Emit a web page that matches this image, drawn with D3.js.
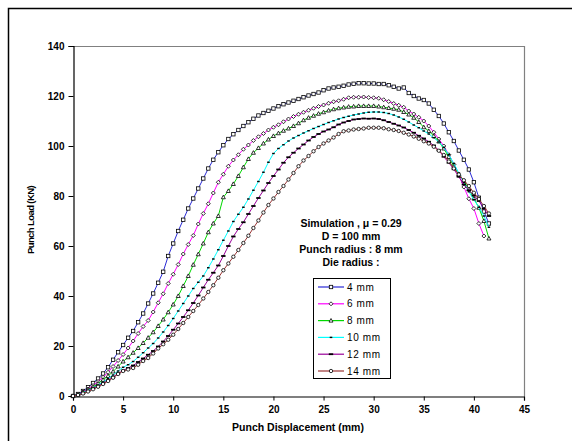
<!DOCTYPE html>
<html lang="en">
<head>
<meta charset="utf-8">
<title>Punch load vs displacement</title>
<script src="https://cdnjs.cloudflare.com/ajax/libs/d3/7.8.5/d3.min.js"></script>
<style>
  html, body { margin: 0; padding: 0; background: #fff; }
  svg { display: block; font-family: Arial, "Liberation Sans", sans-serif; }
</style>
</head>
<body>
<svg id="chart" width="572" height="441"></svg>
<script>
// displacement (mm), one reading every 0.5 mm
const disp = [0, 0.5, 1, 1.5, 2, 2.5, 3, 3.5, 4, 4.5, 5, 5.5, 6, 6.5, 7, 7.5, 8, 8.5, 9, 9.5,
  10, 10.5, 11, 11.5, 12, 12.5, 13, 13.5, 14, 14.5, 15, 15.5, 16, 16.5, 17, 17.5, 18, 18.5, 19, 19.5,
  20, 20.5, 21, 21.5, 22, 22.5, 23, 23.5, 24, 24.5, 25, 25.5, 26, 26.5, 27, 27.5, 28, 28.5, 29, 29.5,
  30, 30.5, 31, 31.5, 32, 32.5, 33, 33.5, 34, 34.5, 35, 35.5, 36, 36.5, 37, 37.5, 38, 38.5, 39, 39.5,
  40, 40.5, 41, 41.5];

// punch load (kN) for each die radius
const load4 = [0, 0.8, 2, 3.5, 5.2, 7, 9, 11.5, 14.5, 17.5, 20.4, 23.3, 26, 29.5, 33, 37, 41, 45.3, 49.7, 56,
  61, 66, 70.5, 75, 79, 83, 87, 91, 94.5, 97.5, 100.3, 102.8, 104.7, 106.4, 108, 109.5, 110.9, 112.2, 113.2, 114.1,
  115, 115.9, 116.7, 117.4, 118.1, 118.8, 119.5, 120.2, 120.8, 121.4, 122.3, 123, 123.4, 123.7, 124.1, 124.6, 124.9, 125.1, 125.1, 125,
  125, 124.8, 124.8, 124.3, 123.7, 123, 123.4, 121.2, 120, 119, 118.4, 117, 114.5, 112, 109, 105.5, 102, 98.2, 94.5, 90.6,
  85.5, 79.3, 73.8, 69];
const load6 = [0, 0.6, 1.6, 2.8, 4.2, 5.8, 7.5, 9.5, 11.8, 14.2, 16.6, 19.2, 22, 25, 27.8, 30.2, 33.6, 37.3, 40.9, 45,
  48.7, 52.6, 56.8, 60.6, 64.2, 68.8, 73, 76.9, 81.2, 85.5, 88.7, 91.9, 94.4, 96.5, 98.7, 100.4, 102.2, 103.7, 105, 106.4,
  107.5, 108.5, 109.7, 110.8, 111.8, 112.7, 113.5, 114.3, 115.1, 115.8, 116.4, 117.1, 117.7, 118.1, 118.7, 119.3, 119.5, 119.5, 119.6, 119.4,
  119.3, 119.1, 118.5, 117.8, 117, 116.3, 115.5, 114, 112.8, 111.5, 110, 108, 105.5, 102.8, 100, 96.5, 92.6, 88.3, 83.6, 78.9,
  75, 69, 64];
const load8 = [0, 0.5, 1.4, 2.4, 3.6, 5, 6.5, 8, 9.8, 11.8, 13.8, 15.5, 17.3, 19.2, 21.2, 23.3, 25.5, 28, 30.6, 33.5,
  36.6, 40, 44, 48, 52.5, 56.7, 61, 65.5, 69, 72, 79.5, 82, 84.8, 88, 91.5, 94.8, 97.3, 99.2, 101, 102.6,
  104, 105.1, 106.1, 107, 108, 109.1, 110.3, 111.3, 112.1, 112.9, 113.5, 114.2, 114.7, 115.1, 115.4, 115.7, 115.8, 116, 116, 116,
  116, 115.8, 115.5, 115.2, 114.9, 114.5, 113.6, 112.6, 111.3, 109.6, 107.5, 106, 104, 101.8, 99, 95.6, 91.8, 88.5, 86, 82.8,
  79, 75.3, 70, 63];
const load10 = [0, 0.5, 1.3, 2.2, 3.2, 4.4, 5.6, 7, 8.4, 10, 11.5, 12.5, 13.8, 15.5, 17.3, 19.2, 21, 23.2, 25.6, 28.2,
  31, 34, 37, 40, 43, 45.5, 48, 51.3, 54.8, 58.5, 62.3, 66, 69.8, 72.7, 75.5, 78.8, 82.3, 85.8, 89.5, 93.5,
  97, 99, 100.5, 102, 103.2, 104.2, 105.2, 106.1, 107, 107.8, 108.6, 109.4, 110.1, 110.8, 111.4, 111.9, 112.4, 112.8, 113.2, 113.5,
  113.6, 113.6, 113.4, 113, 112.4, 111.6, 110.7, 109.6, 108.4, 107.3, 106, 104.8, 103.3, 101.6, 99.4, 96.5, 93, 89.2, 85.4, 81.7,
  78.5, 75.5, 72, 67.5];
const load12 = [0, 0.4, 1.1, 2, 3, 4, 5.1, 6.3, 7.6, 9, 10.2, 11.2, 12.2, 13.6, 15, 16.5, 18, 19.8, 21.8, 24,
  26.5, 29, 31.6, 34.3, 37.2, 40.2, 43.4, 46.5, 49.3, 52.2, 56, 60, 63.8, 66.8, 69.5, 72.8, 76, 79.2, 82.2, 85.2,
  88, 90.6, 93.3, 95.5, 97.3, 99, 100.6, 102.2, 103.6, 104.8, 105.8, 106.6, 107.5, 108.6, 109.4, 110, 110.6, 110.8, 111, 110.9,
  111, 110.8, 110.3, 109.6, 108.9, 108.2, 107.4, 106.4, 105.3, 104.1, 103, 101.7, 100.2, 98.3, 95.7, 93.3, 90.7, 87.7, 84.6, 82.3,
  80.2, 78, 75, 72];
const load14 = [0, 0.4, 1, 1.8, 2.7, 3.7, 4.8, 6, 7.3, 8.8, 10, 10.6, 11.2, 12.5, 14, 15.2, 17, 19, 20.7, 22.5,
  24.5, 26.8, 29.2, 31.6, 34, 36.4, 39, 41.6, 44.3, 47.3, 50.3, 53, 55.7, 58.4, 61.2, 64.1, 67.2, 70.2, 73.4, 76.4,
  79, 81.6, 84, 86.6, 89.2, 91.9, 94.2, 96, 97.9, 99.6, 101, 102.2, 103.4, 104.8, 105.9, 106.2, 106.6, 106.8, 107, 107.3,
  107.3, 107.3, 107.1, 106.7, 106.4, 106, 105.3, 104.6, 103.8, 102.9, 101.9, 101, 99.7, 98.1, 96.4, 93.8, 91, 88.6, 86.3, 84,
  81.3, 78.8, 76, 73];

const seriesNames = ['4 mm', '6 mm', '8 mm', '10 mm', '12 mm', '14 mm'];
const seriesLoads = [load4, load6, load8, load10, load12, load14];
const seriesColors = ['#2a2ad6', '#ff00ff', '#00d800', '#00ffff', '#990099', '#993333'];
const seriesMarkers = ['square', 'diamond', 'triangle', 'dash', 'bar', 'circle'];

const xTicks = [0, 5, 10, 15, 20, 25, 30, 35, 40, 45];
const yTicks = [0, 20, 40, 60, 80, 100, 120, 140];
const noteLines = ['Simulation , \u03bc = 0.29', 'D = 100 mm', 'Punch radius : 8 mm', 'Die radius :'];

const svg = d3.select('#chart');
const plot = { left: 73, right: 524, top: 46, bottom: 396 };

const x = d3.scaleLinear().domain([0, 45]).range([plot.left, plot.right]);
const y = d3.scaleLinear().domain([0, 140]).range([plot.bottom, plot.top]);

// outer frame (runs off the right and bottom of the picture)
svg.append('rect')
  .attr('x', 8.5).attr('y', 8.5)
  .attr('width', 600).attr('height', 500)
  .attr('fill', 'none').attr('stroke', '#000').attr('stroke-width', 1.5);

// plot area border, grey on top and right
svg.append('path')
  .attr('d', `M${plot.left},${plot.top + 0.5}H${plot.right + 0.5}V${plot.bottom}`)
  .attr('fill', 'none').attr('stroke', '#808080').attr('stroke-width', 1.2);

const xAxis = svg.append('g')
  .attr('transform', `translate(0,${plot.bottom + 0.5})`)
  .call(d3.axisBottom(x).tickValues(xTicks).tickSize(4).tickPadding(5));
const yAxis = svg.append('g')
  .attr('transform', `translate(${plot.left + 0.5},0)`)
  .call(d3.axisLeft(y).tickValues(yTicks).tickSize(5).tickPadding(4));

[xAxis, yAxis].forEach(g => {
  g.select('.domain').attr('stroke', '#000').attr('stroke-width', 1.2);
  g.selectAll('.tick line').attr('stroke', '#000');
  g.selectAll('.tick text')
    .attr('font-family', 'Arial, "Liberation Sans", sans-serif')
    .attr('font-size', 10).attr('font-weight', 'bold').attr('fill', '#000');
});

svg.append('text')
  .attr('x', 298).attr('y', 431)
  .attr('text-anchor', 'middle')
  .attr('font-size', 10.5).attr('font-weight', 'bold')
  .text('Punch Displacement (mm)');

svg.append('text')
  .attr('transform', 'translate(34,220) rotate(-90)')
  .attr('text-anchor', 'middle')
  .attr('font-size', 9.5).attr('font-weight', 'bold').attr('letter-spacing', -0.6)
  .text('Punch Load (KN)');

// curves
const line = d3.line().x(d => x(d[0])).y(d => y(d[1]));

function drawMarker(g, type, cx, cy) {
  if (type === 'square') {
    g.append('rect').attr('x', cx - 1.7).attr('y', cy - 1.7).attr('width', 3.4).attr('height', 3.4)
      .attr('fill', '#fff').attr('stroke', '#000').attr('stroke-width', 0.8);
  } else if (type === 'diamond') {
    g.append('path').attr('d', `M${cx},${cy - 2}L${cx + 2},${cy}L${cx},${cy + 2}L${cx - 2},${cy}Z`)
      .attr('fill', '#fff').attr('stroke', '#000').attr('stroke-width', 0.8);
  } else if (type === 'triangle') {
    g.append('path').attr('d', `M${cx},${cy - 2.1}L${cx + 2},${cy + 1.5}L${cx - 2},${cy + 1.5}Z`)
      .attr('fill', '#fff').attr('stroke', '#000').attr('stroke-width', 0.8);
  } else if (type === 'dash') {
    g.append('rect').attr('x', cx - 1.3).attr('y', cy - 0.7).attr('width', 2.6).attr('height', 1.4)
      .attr('fill', '#000');
  } else if (type === 'bar') {
    g.append('rect').attr('x', cx - 2.2).attr('y', cy - 0.9).attr('width', 4.4).attr('height', 1.8)
      .attr('fill', '#000');
  } else {
    g.append('circle').attr('cx', cx).attr('cy', cy).attr('r', 1.7)
      .attr('fill', '#fff').attr('stroke', '#000').attr('stroke-width', 0.8);
  }
}

seriesLoads.forEach((loads, i) => {
  const pts = loads.map((v, j) => [disp[j], v]);
  const g = svg.append('g').attr('class', 'series');
  g.append('path').datum(pts)
    .attr('d', line)
    .attr('fill', 'none')
    .attr('stroke', seriesColors[i])
    .attr('stroke-width', 1);
  pts.forEach(p => drawMarker(g, seriesMarkers[i], x(p[0]), y(p[1])));
});

// annotation
const note = svg.append('text')
  .attr('text-anchor', 'middle')
  .attr('font-size', 10.5).attr('font-weight', 'bold');
noteLines.forEach((t, i) => {
  note.append('tspan').attr('x', 351).attr('y', 226.5 + i * 13.3).text(t);
});

// legend
const legend = svg.append('g');
legend.append('rect')
  .attr('x', 313.5).attr('y', 278.5).attr('width', 77).attr('height', 100)
  .attr('fill', '#fff').attr('stroke', '#000').attr('stroke-width', 1);
seriesNames.forEach((name, i) => {
  const ly = 287 + i * 16.8;
  legend.append('line')
    .attr('x1', 318).attr('x2', 344).attr('y1', ly).attr('y2', ly)
    .attr('stroke', seriesColors[i]).attr('stroke-width', 1.2);
  drawMarker(legend, seriesMarkers[i], 331, ly);
  legend.append('text')
    .attr('x', 347).attr('y', ly + 3.5)
    .attr('font-size', 10).attr('letter-spacing', 0.6)
    .text(name);
});
</script>
</body>
</html>
